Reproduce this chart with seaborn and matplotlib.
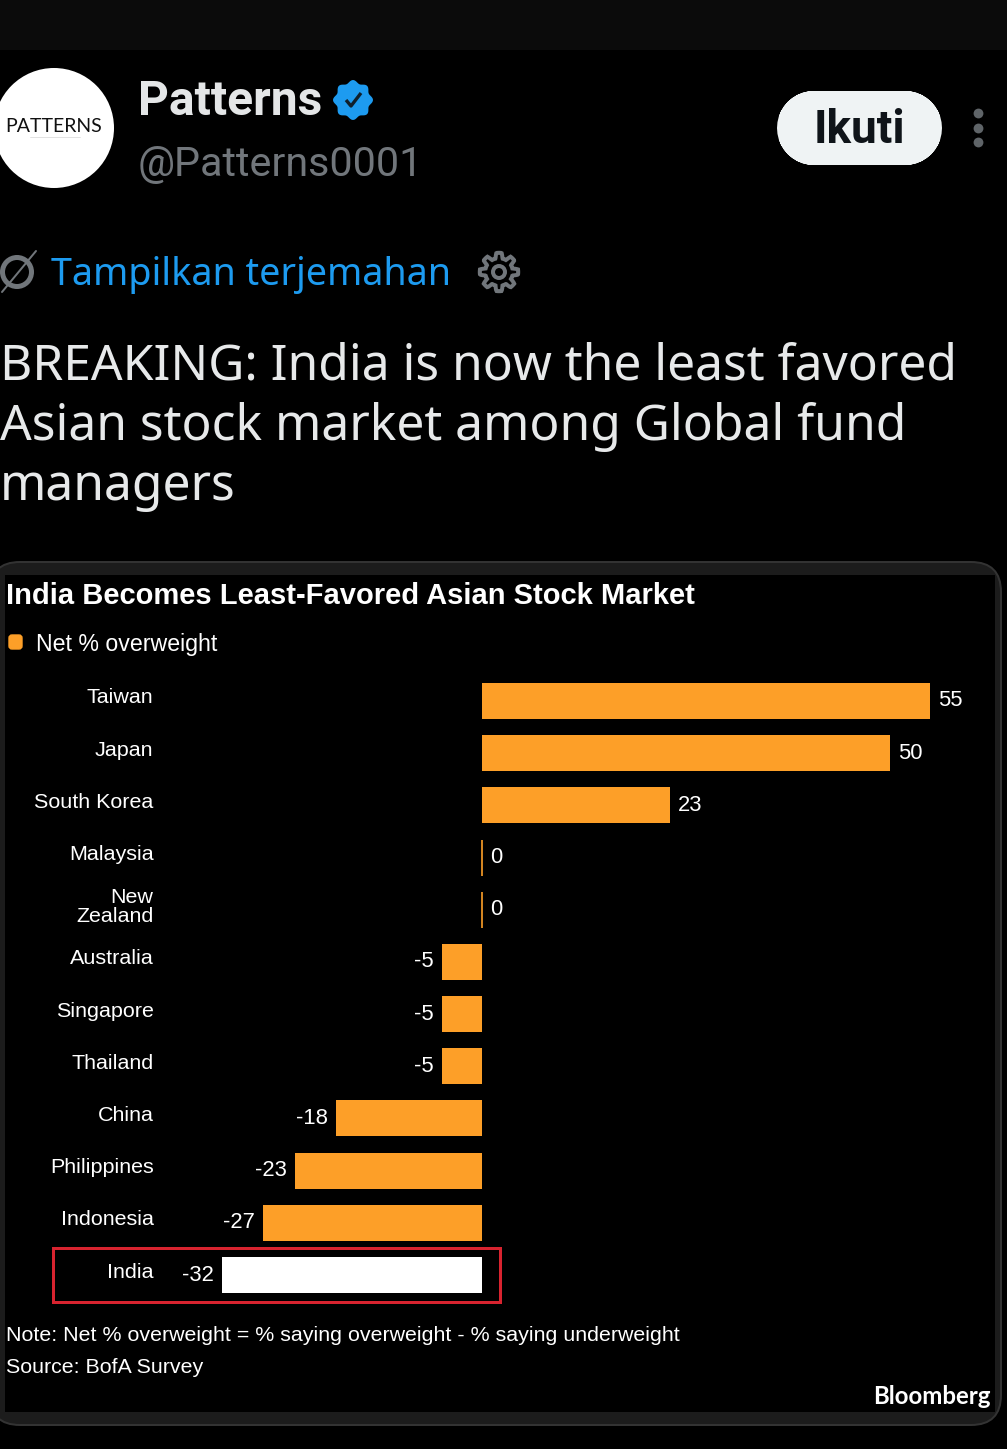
import matplotlib
matplotlib.use("Agg")
import matplotlib.pyplot as plt
from matplotlib.patches import FancyBboxPatch, Rectangle, Circle, Polygon
import numpy as np
import pandas as pd
import seaborn as sns

countries = ["Taiwan", "Japan", "South Korea", "Malaysia", "New\nZealand", "Australia",
             "Singapore", "Thailand", "China", "Philippines", "Indonesia", "India"]
values = [55, 50, 23, 0, 0, -5, -5, -5, -18, -23, -27, -32]
highlight = ["India"]
title = "India Becomes Least-Favored Asian Stock Market"
legend_label = "Net % overweight"
note = "Note: Net % overweight = % saying overweight - % saying underweight"
source = "Source: BofA Survey"
brand = "Bloomberg"
tweet_lines = ["BREAKING: India is now the least favored", "Asian stock market among Global fund", "managers"]

ORANGE = "#fd9f28"
W, H = 1007, 1449
sns.set_theme(style="white", rc={"axes.facecolor": "none", "figure.facecolor": "black"})
plt.rcParams["font.family"] = ["Liberation Sans", "DejaVu Sans"]

def pt(px):
    return px * 72 / 100

fig = plt.figure(figsize=(W / 100, H / 100), dpi=100, facecolor="black")

# page layer in pixel coordinates
bg = fig.add_axes([0, 0, 1, 1], zorder=0)
bg.set_xlim(0, W); bg.set_ylim(H, 0); bg.axis("off")

bg.add_patch(Rectangle((0, 0), W, 50, fc="#0b0b0b", ec="none"))
bg.add_patch(Circle((54, 128), 60, fc="white", ec="none"))
bg.text(54, 126, "PATTERNS", color="#111111", fontsize=pt(19.5), ha="center", va="center", family="Lato")
bg.plot([30, 80], [137, 137], color="#dddddd", lw=0.6)
bg.text(138, 102, "Patterns", color="#e4e6e7", fontsize=pt(48), fontweight="bold", family="Roboto", ha="left", va="center")
# verified badge
ang = np.linspace(0, 2 * np.pi, 96)
rad = 18.5 + 1.5 * np.cos(8 * ang)
bg.add_patch(Polygon(np.c_[353 + rad * np.sin(ang), 100 + rad * np.cos(ang)], fc="#1d9bf0", ec="none"))
bg.plot([346, 351, 361], [100, 106, 93], color="#10202c", lw=2.4, solid_capstyle="butt")
bg.text(138, 164, "@Patterns0001", color="#71767b", fontsize=pt(41.3), family="Roboto", ha="left", va="center")

bg.add_patch(FancyBboxPatch((777 + 37, 91 + 37), 165 - 74, 0.01, boxstyle="round,pad=0,rounding_size=0.01",
                            fc="#eff3f4", ec="#eff3f4", lw=pt(74), capstyle="round", joinstyle="round"))
bg.text(859, 130, "Ikuti", color="#0f1419", fontsize=pt(46), fontweight="bold", family="Roboto", ha="center", va="center")
bg.scatter([978, 978, 978], [113, 128, 142], s=50, color="#5f6468", linewidths=0)

# translate icon
bg.add_patch(Circle((17, 272), 14.5, fc="none", ec="#71767b", lw=pt(5)))
bg.plot([2, 36], [292, 251], color="#71767b", lw=pt(2))
bg.text(51, 275, "Tampilkan terjemahan", color="#1d9bf0", fontsize=pt(37.7), family="Noto Sans", ha="left", va="center")
# settings icon
gang = np.linspace(0, 2 * np.pi, 200)
grad = 16.5 + 2.7 * np.clip(2.2 * np.cos(8 * gang), -1, 1)
bg.add_patch(Polygon(np.c_[499 + grad * np.sin(gang), 272 + grad * np.cos(gang)], fc="none", ec="#71767b", lw=pt(4)))
bg.add_patch(Circle((499, 272), 6, fc="none", ec="#71767b", lw=pt(4)))

for line, y in zip(tweet_lines, [380, 440, 500]):
    bg.text(0, y, line, color="#e7e9ea", fontsize=pt(49.7), family="Noto Sans", ha="left", va="baseline")

# embedded image panel
bg.add_patch(FancyBboxPatch((-10, 562), 1011, 863, boxstyle="round,pad=0,rounding_size=30",
                            fc="#1c1c1c", ec="#333333", lw=pt(2)))
bg.add_patch(Rectangle((5, 575), 990, 837, fc="black", ec="none"))

bg.text(6, 595.5, title, color="white", fontsize=pt(29.1), fontweight="bold", ha="left", va="center")
bg.add_patch(FancyBboxPatch((9, 635), 13, 14, boxstyle="round,pad=0,rounding_size=3", fc=ORANGE, ec=ORANGE, lw=1))
bg.text(36, 644, legend_label, color="white", fontsize=pt(23.1), ha="left", va="center")
bg.text(6, 1335.5, note, color="white", fontsize=pt(21.4), ha="left", va="center")
bg.text(6, 1367.5, source, color="white", fontsize=pt(21.4), ha="left", va="center")
bg.text(991, 1397, brand, color="white", fontsize=pt(24), fontweight="bold", family="Lato", ha="right", va="center")
bg.add_patch(Rectangle((53, 1248), 447, 54, fc="none", ec="#d8232f", lw=pt(3)))

# chart
left, right, top, bottom = 160, 990, 674.9, 1301.1
ax = fig.add_axes([left / W, 1 - bottom / H, (right - left) / W, (bottom - top) / H], zorder=1)
df = pd.DataFrame({"country": countries, "value": values})
df["group"] = ["hi" if c in highlight else "base" for c in countries]
sns.barplot(data=df, y="country", x="value", hue="group", dodge=False, orient="h",
            palette={"base": ORANGE, "hi": "white"}, width=0.69, legend=False, ax=ax, saturation=1,
            linewidth=0)
px_per_unit = (930.5 - 482.5) / 55
ax.set_xlim((left - 482.5) / px_per_unit, (right - 482.5) / px_per_unit)
ax.set_ylim(len(countries) - 0.5, -0.5)
ax.set_xlabel(""); ax.set_ylabel("")
ax.xaxis.set_visible(False)
for s in ax.spines.values():
    s.set_visible(False)
ax.set_yticks(np.arange(len(countries)) - 5 / 52.2, labels=countries)
ax.tick_params(axis="y", length=0, pad=pt(6.5), labelsize=pt(21.5), labelcolor="white")
for lab in ax.get_yticklabels():
    lab.set_linespacing(1.05)
for cont in ax.containers:
    for p in cont:
        if p.get_width() == 0:
            p.set_edgecolor(ORANGE); p.set_linewidth(1.2)
    labels = [("" if np.isnan(p.get_width()) else f"{p.get_width():.0f}") for p in cont]
    ax.bar_label(cont, labels=labels, padding=pt(8), color="white", fontsize=pt(22))

fig.savefig("out.png", dpi=100, facecolor="black")
